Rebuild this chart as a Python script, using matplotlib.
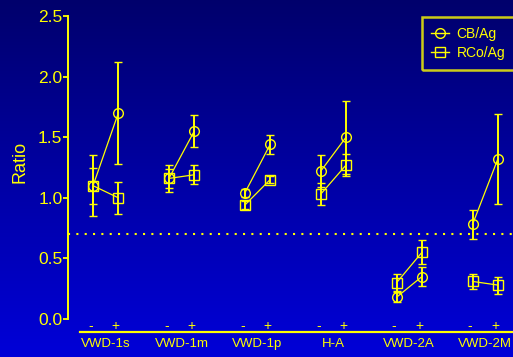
import numpy as np
import matplotlib

matplotlib.use("Agg")
import matplotlib.pyplot as plt
from matplotlib.colors import LinearSegmentedColormap

# groups, each measured without (-) and with (+)
groups = ["VWD-1s", "VWD-1m", "VWD-1p", "H-A", "VWD-2A", "VWD-2M"]
conditions = ["-", "+"]

# CB/Ag ratio, mean and error per group: (-, +)
cb_minus = [1.10, 1.16, 1.04, 1.22, 0.18, 0.78]
cb_plus = [1.70, 1.55, 1.44, 1.50, 0.35, 1.32]
cb_err_minus = [0.25, 0.11, 0.035, 0.13, 0.04, 0.12]
cb_err_plus = [0.42, 0.13, 0.08, 0.30, 0.08, 0.37]

# RCo/Ag ratio
rco_minus = [1.10, 1.16, 0.94, 1.03, 0.30, 0.31]
rco_plus = [1.00, 1.19, 1.15, 1.27, 0.55, 0.28]
rco_err_minus = [0.15, 0.08, 0.03, 0.09, 0.07, 0.06]
rco_err_plus = [0.13, 0.08, 0.03, 0.09, 0.10, 0.07]

cutoff = 0.7

YELLOW = "#ffff00"
plt.rcParams["font.family"] = ["Liberation Sans", "DejaVu Sans"]

fig = plt.figure(figsize=(5.13, 3.57), dpi=100)

# vertical blue gradient behind everything
bg = fig.add_axes([0, 0, 1, 1], zorder=-10)
grad = np.linspace(0, 1, 256).reshape(-1, 1)
cmap = LinearSegmentedColormap.from_list("bg", ["#0000d8", "#0000a4", "#00006c"])
bg.imshow(grad, aspect="auto", cmap=cmap, origin="lower", extent=[0, 1, 0, 1])
bg.set_axis_off()

ax = fig.add_axes([68 / 513, 38 / 357, 445 / 513, 303 / 357])
ax.patch.set_alpha(0)

step = 3
x_minus = np.arange(len(groups)) * step
x_plus = x_minus + 1

marker_kw = dict(color=YELLOW, markerfacecolor="none", markeredgewidth=1.0,
                 markersize=7, elinewidth=1.4, capsize=3.2, capthick=1.7, lw=0)

for i in range(len(groups)):
    xs = [x_minus[i], x_plus[i]]
    ax.errorbar(xs, [cb_minus[i], cb_plus[i]],
                yerr=[cb_err_minus[i], cb_err_plus[i]], marker="o", **marker_kw)
    ax.errorbar(xs, [rco_minus[i], rco_plus[i]],
                yerr=[rco_err_minus[i], rco_err_plus[i]], marker="s", **marker_kw)
    ax.plot(xs, [cb_minus[i], cb_plus[i]], color=YELLOW, lw=0.9)
    ax.plot(xs, [rco_minus[i], rco_plus[i]], color=YELLOW, lw=0.9)

ax.axhline(cutoff, color=YELLOW, lw=1.5, ls=(0, (1, 3)))

# legend handles with a line through the marker
h_cb, = ax.plot([], [], color=YELLOW, marker="o", markerfacecolor="none",
                markersize=7, lw=1.0)
h_rco, = ax.plot([], [], color=YELLOW, marker="s", markerfacecolor="none",
                 markersize=7, lw=1.0)
leg = ax.legend([h_cb, h_rco], ["CB/Ag", "RCo/Ag"], loc="upper right",
                bbox_to_anchor=(1.004, 0.997), frameon=True, fontsize=10,
                handlelength=1.3, handletextpad=0.5, borderpad=0.7,
                labelspacing=0.4, fancybox=False, borderaxespad=0.0)
leg.get_frame().set_facecolor("none")
leg.get_frame().set_edgecolor(YELLOW)
leg.get_frame().set_linewidth(1.8)
for t in leg.get_texts():
    t.set_color(YELLOW)

ax.set_xlim(-0.99, 16.6)
ax.set_ylim(0, 2.5)

ax.spines["top"].set_visible(False)
ax.spines["right"].set_visible(False)
ax.spines["left"].set_color(YELLOW)
ax.spines["left"].set_linewidth(1.4)
ax.spines["bottom"].set_color(YELLOW)
ax.spines["bottom"].set_linewidth(1.6)
ax.spines["bottom"].set_position(("outward", 9.5))
ax.spines["bottom"].set_bounds(-0.5, 16.6)

ax.set_yticks([0.0, 0.5, 1.0, 1.5, 2.0, 2.5])
ax.set_yticklabels(["0.0", "0.5", "1.0", "1.5", "2.0", "2.5"])
ax.tick_params(axis="y", colors=YELLOW, labelsize=12.5, length=3.5, width=1.3, pad=0.5)
ax.set_xticks([])

ax.set_ylabel("Ratio", color=YELLOW, fontsize=13, va="center")
ax.yaxis.set_label_coords(-0.108, 0.518)

xt = ax.get_xaxis_transform()
for i, name in enumerate(groups):
    for x, c in zip([x_minus[i], x_plus[i]], conditions):
        ax.text(x - 0.1, -0.022, c, transform=xt, ha="center", va="center",
                color=YELLOW, fontsize=10, clip_on=False)
    ax.text((x_minus[i] + x_plus[i]) / 2, -0.083, name, transform=xt,
            ha="center", va="center", color=YELLOW, fontsize=9.5, clip_on=False)

fig.savefig("out.png", dpi=100)
